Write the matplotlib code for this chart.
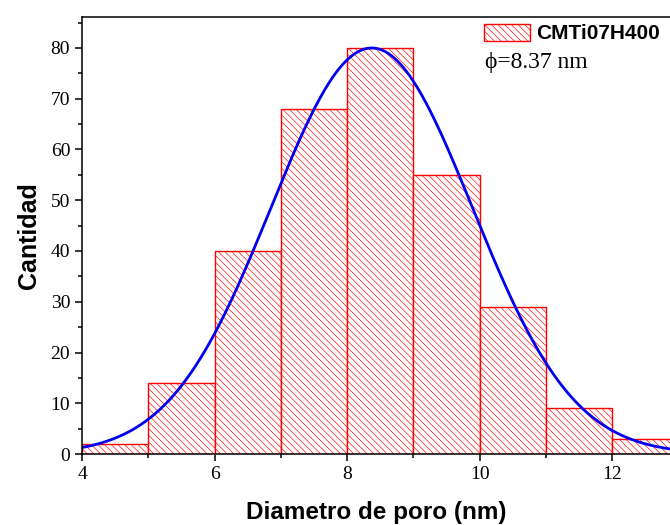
import numpy as np
import matplotlib
matplotlib.use("Agg")
import matplotlib.pyplot as plt
from matplotlib.patches import Patch
from matplotlib.ticker import MultipleLocator

# histogram of pore diameters
bin_left = [4, 5, 6, 7, 8, 9, 10, 11, 12]
counts = [2, 14, 40, 68, 80, 55, 29, 9, 3]
bin_width = 1.0

# gaussian fit
fit_center = 8.37
fit_amp = 80.0
fit_sigma = 1.52

plt.rcParams['hatch.color'] = '#ff4444'
plt.rcParams['hatch.linewidth'] = 0.45

hatch = '\\' * 5

fig = plt.figure(figsize=(6.7, 5.25), dpi=100)
ax = fig.add_axes([0.1224, 0.1352, 0.8776, 0.8324])

ax.bar(bin_left, counts, width=bin_width, align='edge', facecolor='white',
       edgecolor='red', linewidth=1.0, hatch=hatch)

xs = np.linspace(4, 13, 400)
ys = fit_amp * np.exp(-(xs - fit_center) ** 2 / (2 * fit_sigma ** 2))
ax.plot(xs, ys, color='#0000ee', lw=2.0)

ax.set_xlim(4, 12.87)
ax.set_ylim(0, 86.1)
ax.spines['right'].set_visible(False)
for s in ['left', 'bottom', 'top']:
    ax.spines[s].set_linewidth(1.1)

ax.xaxis.set_major_locator(MultipleLocator(2))
ax.xaxis.set_minor_locator(MultipleLocator(1))
ax.yaxis.set_major_locator(MultipleLocator(10))
ax.yaxis.set_minor_locator(MultipleLocator(5))
ax.tick_params(which='major', direction='out', length=5, width=1.1,
               labelsize=14, top=False, right=False)
ax.tick_params(which='minor', direction='out', length=3, width=1.1,
               top=False, right=False)
for lab in ax.get_xticklabels() + ax.get_yticklabels():
    lab.set_fontfamily('Liberation Serif')

ax.set_xlabel('Diametro de poro (nm)', fontsize=17.5, fontweight='bold',
              family='Liberation Sans', labelpad=13)
ax.set_ylabel('Cantidad', fontsize=18, fontweight='bold',
              family='Liberation Sans', labelpad=7)

handle = Patch(facecolor='white', edgecolor='red', hatch=hatch, linewidth=1.0)
leg = ax.legend([handle], ['CMTi07H400'], loc='upper left',
                bbox_to_anchor=(0.684, 0.985), frameon=False,
                prop={'family': 'Liberation Sans', 'weight': 'bold', 'size': 15},
                handlelength=2.2, handleheight=0.9, handletextpad=0.3,
                borderaxespad=0.0, borderpad=0.0)
ax.text(0.686, 0.895, '\u03d5=8.37 nm', transform=ax.transAxes,
        fontsize=17, family='Liberation Serif', va='center', ha='left')

fig.savefig('out.png', dpi=100)
